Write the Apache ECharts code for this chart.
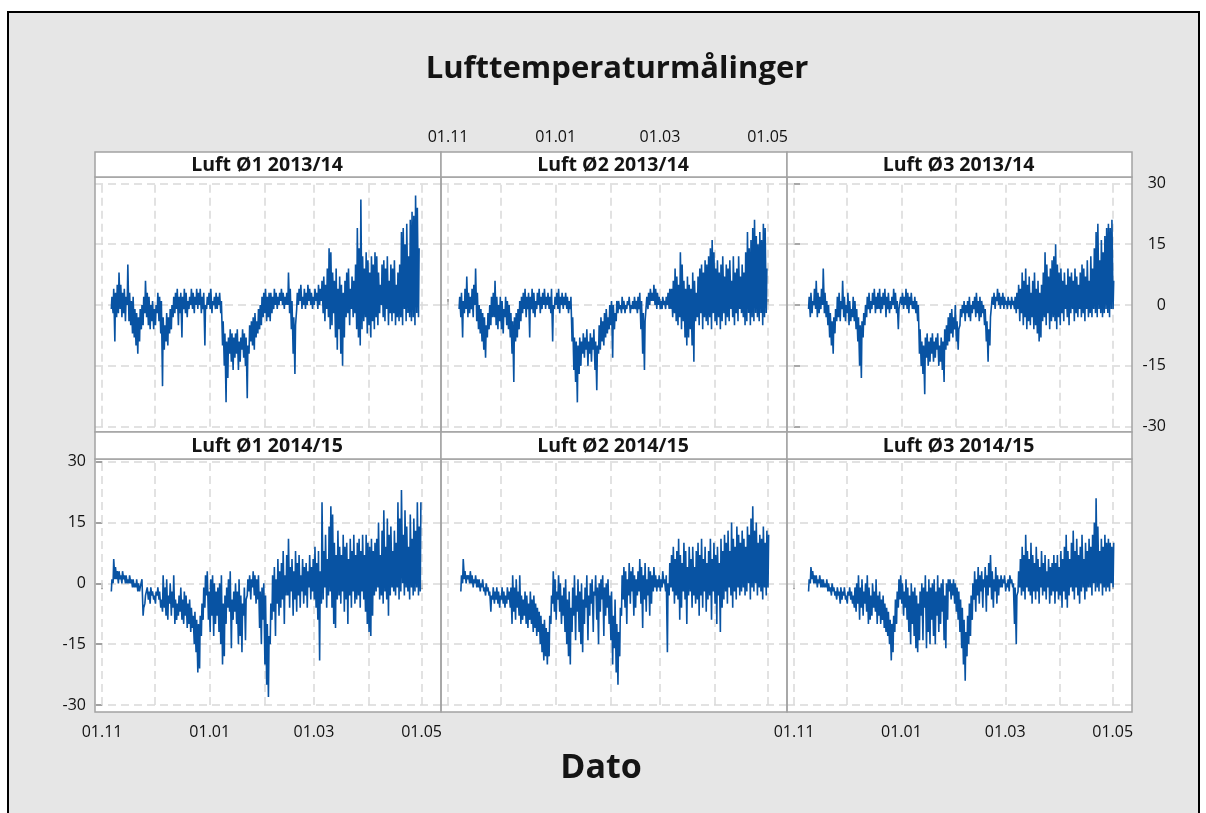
<!DOCTYPE html>
<html>
<head>
<meta charset="utf-8">
<title>Lufttemperaturmålinger</title>
<script src="https://cdn.jsdelivr.net/npm/echarts@6/dist/echarts.min.js"></script>
<style>
    html, body { margin: 0; padding: 0; background: #fff; }
    #chart { width: 1206px; height: 813px; }
</style>
</head>
<body>
<div id="chart"></div>
<script>
    // x = days after 01.11
    const tickDays = [0, 61, 120, 181];
    const tickLabels = ['01.11', '01.01', '01.03', '01.05'];
    const monthDays = [0, 30, 61, 92, 120, 151, 181];
    const yTicks = [-30, -15, 0, 15, 30];

    const panelTitles = ['Luft Ø1 2013/14', 'Luft Ø2 2013/14', 'Luft Ø3 2013/14',
                         'Luft Ø1 2014/15', 'Luft Ø2 2014/15', 'Luft Ø3 2014/15'];

    // daily highs / lows, first value is day "start"
    const startO1_1314 = 5;
    const hiO1_1314 = [2,4,3,5,8,5,3,4,2,10, 3,1,2,-1,-2,-3,-1,0,2,6, 3,2,0,1,-1,0,3,2,1,-3, -5,-2,-3,-1,0,2,3,4,2,3,
        2,4,3,1,2,4,3,2,4,3, 4,2,3,0,2,3,4,1,2,3, 2,3,1,-4,-7,-9,-8,-6,-7,-8, -7,-6,-9,-8,-6,-7,-8,-10,-5,-4,
        -3,-2,-4,-1,0,2,3,4,2,3, 3,2,4,3,2,3,4,3,2,3, 8,4,1,-3,-5,3,4,5,2,4, 3,5,4,3,2,4,3,5,4,6,
        7,5,9,14,13,8,6,9,4,7, 5,3,6,8,9,4,7,6,10,19, 14,26,12,9,13,11,8,12,10,13, 12,8,5,10,11,9,12,6,10,9,
        11,5,8,10,18,19,15,20,12,21, 23,22,27,24,14];
    const loO1_1314 = [-1,-2,-9,-3,-2,-1,-3,-2,-4,0, -4,-5,-7,-8,-10,-12,-9,-6,-5,-2, -3,-5,-6,-4,-6,-5,-2,-4,-7,-20, -11,-9,-10,-7,-6,-3,-2,-1,-5,-2,
        -8,-1,-2,-3,-1,0,-1,-2,0,-1, 0,-2,-1,-10,-1,0,-1,-2,0,-1, -1,0,-2,-10,-15,-24,-18,-12,-14,-16, -13,-12,-16,-14,-11,-13,-15,-23,-12,-9,
        -10,-11,-8,-7,-6,-5,-3,-2,-4,-3, -4,-2,-1,0,-1,0,1,0,-1,0, 0,-2,-6,-12,-17,-1,0,1,-1,0, -1,0,1,0,-1,0,1,-1,0,1,
        -2,-4,-1,-3,-6,-5,-2,-8,-11,-6, -12,-15,-8,-3,-2,-5,-1,-3,-2,-6, -8,-10,-6,-4,-3,-7,-5,-8,-4,-6, -3,-5,-2,0,-3,-4,-1,-5,-2,-4,
        -2,-5,-3,-4,-3,-5,-1,-4,-2,-3, -4,-3,-5,-2,-3];

    const startO2_1314 = 6;
    const hiO2_1314 = [2,3,1,4,7,3,2,4,5,9, 3,0,-1,-2,-3,-5,-2,0,2,3, 6,2,0,2,1,-1,2,1,0,-2, -4,-3,-2,-1,1,2,3,4,2,3,
        2,4,3,1,3,4,2,3,4,2, 3,2,4,0,2,3,4,2,3,2, 3,2,1,2,-3,-8,-9,-10,-8,-9, -7,-8,-6,-9,-7,-8,-6,-9,-10,-5,
        -3,-4,-2,-1,-3,0,1,0,-2,1, 1,0,2,1,0,1,2,0,1,2, 1,2,3,1,-2,-4,2,3,4,3, 5,4,3,2,1,2,1,2,3,4,
        4,6,9,7,5,13,10,6,4,7, 5,4,8,6,3,7,9,10,8,11, 10,12,14,16,13,9,11,8,10,12, 7,10,9,11,6,12,8,9,12,7,
        10,8,13,18,14,16,19,21,17,15, 18,16,20,19,9];
    const loO2_1314 = [-1,-3,-8,-2,-1,-3,-2,-1,-3,0, -4,-6,-7,-9,-11,-13,-8,-6,-5,-3, -3,-5,-6,-4,-6,-7,-3,-5,-6,-8, -12,-19,-9,-8,-6,-4,-2,-1,-3,-1,
        -8,-1,-2,-3,-1,0,-2,-1,0,-1, 0,-1,-2,-9,-1,0,-1,-2,0,-1, 0,-1,-2,-1,-9,-16,-19,-24,-17,-15, -12,-13,-11,-15,-12,-14,-11,-16,-21,-12,
        -11,-9,-10,-8,-7,-6,-5,-13,-6,-4, -2,-1,-2,-1,-2,-1,0,-2,-1,-1, -1,-2,-1,-6,-12,-16,-4,-1,0,1, 1,0,-1,0,-1,-1,0,-1,0,-1,
        -1,-3,-2,-4,-5,-3,-6,-4,-8,-10, -8,-6,-10,-14,-4,-3,-5,-2,-6,-3, -4,-5,-3,-6,-2,-4,-5,-3,-6,-4, -2,-5,-3,-4,-1,-3,-5,-2,-4,-1,
        -2,-3,-5,-4,-2,-5,-3,-4,-2,-3, -4,-2,-5,-3,-2];

    const startO3_1314 = 8;
    const hiO3_1314 = [2,3,1,4,6,3,2,4,9,3, 1,0,-2,-4,-3,-1,2,3,1,6, 2,0,3,1,-1,2,1,-1,-3,-5, -4,-2,0,2,3,1,3,4,2,3,
        4,2,3,4,2,3,1,2,4,3, 1,-1,2,3,2,4,3,2,3,1, 2,1,0,-6,-9,-10,-8,-7,-9,-8, -7,-9,-8,-7,-10,-8,-9,-6,-5,-3,
        -2,-1,-3,0,-4,-6,-1,0,1,0, 1,2,0,1,2,3,1,2,1,0, -1,-4,-6,-3,2,3,2,4,3,2, 3,2,1,2,1,2,1,2,3,5,
        4,8,6,9,5,7,3,6,8,4, 6,3,5,8,13,10,7,9,11,12, 15,10,8,9,6,8,5,9,7,8, 6,9,7,5,8,10,9,7,11,6,
        12,9,14,18,20,11,16,13,17,19, 20,19,21,6];
    const loO3_1314 = [-1,-3,-2,0,-1,-3,-2,-1,0,-2, -3,-5,-8,-10,-12,-7,-4,-3,-4,-1, -3,-4,-2,-5,-4,-3,-4,-6,-9,-15, -18,-8,-5,-3,-1,-2,-1,0,-2,-1,
        -1,-2,-1,0,-3,-1,-2,-1,0,-1, -2,-6,-1,0,-1,0,-1,-2,0,-1, -1,-2,-4,-12,-15,-17,-22,-13,-15,-14, -12,-14,-13,-11,-15,-14,-16,-19,-11,-10,
        -9,-7,-8,-6,-9,-11,-5,-3,-2,-4, -2,-3,-4,-2,-1,-3,-2,-4,-3,-2, -5,-9,-14,-10,-3,0,-1,1,0,-1, 0,-1,0,-1,0,-1,0,-1,-2,-1,
        -4,-2,-5,-3,-6,-4,-5,-3,-6,-5, -7,-9,-8,-4,-3,-5,-2,-6,-4,-3, -4,-6,-3,-5,-2,-4,-1,-3,-5,-2, -1,-4,-2,-3,-1,-3,-2,-4,-1,-3,
        -2,-3,-1,-2,-3,-1,-2,-3,-2,-1, -2,-3,-1,-1];

    const startO1_1415 = 5;
    const hiO1_1415 = [1,6,4,3,3,2,3,2,2,1, 2,1,1,0,1,0,-1,1,-6,-3, -1,-2,-1,-2,-3,-2,-1,-2,-4,2, -1,1,-3,0,-2,2,-4,-5,-3,-1,
        -4,-2,-3,-5,-4,-6,-8,-7,-9,-10, -8,-5,-1,2,3,-2,1,2,0,-2, -1,0,2,-5,-3,-1,1,3,-4,-2, 0,-2,1,-3,-5,-1,-4,1,2,1,
        3,2,1,2,-2,-1,0,-3,-10,-13, -5,2,4,1,6,3,5,8,2,7, 11,4,6,3,8,5,7,2,6,4, 5,3,7,4,6,9,5,8,3,20,
        8,12,6,14,19,17,10,7,13,9, 7,12,9,10,6,11,8,12,7,10, 11,8,12,7,12,10,9,11,8,10, 11,15,7,13,18,9,16,12,14,8,
        13,10,20,16,23,12,18,14,9,17, 11,16,13,20,14,20];
    const loO1_1415 = [-2,0,1,1,0,1,0,1,0,0, 0,0,-1,-1,-1,-2,-2,-1,-8,-5, -3,-4,-5,-3,-4,-5,-3,-4,-6,-7, -6,-8,-9,-5,-8,-6,-10,-9,-8,-7,
        -9,-10,-8,-11,-10,-12,-11,-15,-17,-22, -21,-13,-9,-6,-3,-9,-12,-8,-13,-10, -8,-12,-15,-20,-18,-10,-6,-7,-16,-9, -7,-10,-15,-13,-17,-8,-14,-3,-2,-4,
        -1,-3,-5,-4,-11,-15,-9,-20,-25,-28, -15,-9,-7,-13,-5,-8,-6,-4,-10,-3, -3,-6,-2,-8,-4,-7,-3,-6,-2,-5, -3,-6,-1,-4,-2,-4,-6,-9,-19,-5,
        -4,-1,-6,-3,-2,-6,-10,-11,-4,-3, -5,-2,-7,-4,-10,-3,-6,-2,-5,-4, -3,-6,-2,-4,-7,-10,-12,-13,-8,-3, -2,-1,-4,-3,-5,-2,-4,-8,-3,-1,
        -2,-3,-1,-4,-2,0,-3,-1,-2,-4, -1,-3,-2,-1,-3,-2];

    const startO2_1415 = 7;
    const hiO2_1415 = [2,6,3,2,2,3,2,1,2,1, 1,0,1,-1,0,-1,-2,-3,-1,-2, -1,-2,-3,-1,-2,-3,-1,-2,-1,2, -1,1,-2,2,-3,-4,-2,-3,-5,-2,
        -4,-3,-5,-6,-7,-8,-10,-9,-11,-12, -8,-3,3,1,-2,2,0,-3,-1,1, -4,-2,-6,-1,2,-3,1,-2,0,-4, -1,2,-3,0,1,-2,2,-1,0,1,
        2,-1,0,1,-3,-2,-8,-4,-10,-12, -6,2,4,3,1,5,3,4,2,1, 3,6,4,2,5,1,4,3,2,4, 2,1,2,1,3,1,2,0,5,7,
        9,6,8,11,7,5,10,8,4,9, 6,9,4,8,10,7,11,6,9,5, 8,11,6,10,7,9,5,11,8,12, 10,13,8,15,11,9,14,12,10,13,
        11,9,14,12,16,19,13,15,10,12, 11,14,10,13,12];
    const loO2_1415 = [-2,0,1,0,1,0,0,-1,0,-1, -1,-2,-1,-2,-3,-2,-3,-7,-4,-5, -4,-5,-6,-4,-5,-6,-5,-4,-6,-10, -7,-9,-6,-8,-10,-9,-8,-10,-11,-9,
        -10,-12,-11,-13,-12,-15,-17,-19,-18,-20, -18,-10,-5,-7,-9,-4,-7,-10,-8,-12, -15,-18,-20,-12,-8,-14,-7,-12,-15,-17, -10,-6,-14,-8,-5,-12,-3,-9,-15,-7,
        -4,-13,-8,-6,-10,-14,-20,-16,-22,-25, -18,-8,-4,-6,-10,-3,-5,-2,-8,-6, -3,-2,-5,-11,-4,-7,-3,-8,-5,-2, -1,-2,-1,-2,-1,0,-2,-17,-3,-1,
        -2,-5,-3,-4,-9,-6,-2,-4,-10,-3, -2,-6,-3,-5,-4,-8,-3,-6,-2,-7, -4,-3,-9,-2,-5,-10,-3,-12,-6,-4, -2,-5,-1,-3,-6,-2,-4,-1,-3,-2,
        -1,-3,-2,0,-4,-1,-2,0,-3,-1, -2,-4,-1,-3,-1];

    const startO3_1415 = 8;
    const hiO3_1415 = [1,4,3,2,2,1,2,1,1,0, 1,0,-1,0,-1,-2,-1,-2,-1,-2, -1,-3,-2,-1,-2,-3,-1,0,2,-1, 1,-2,0,2,-1,-3,0,-2,1,-3,
        -2,-4,-3,-5,-6,-7,-9,-10,-8,-4, -2,1,2,0,-2,1,-1,-3,0,-2, -1,-3,-5,-2,0,-1,2,-2,1,-1, 0,1,-2,2,-1,0,1,-3,0,1,
        1,0,1,0,-1,-2,-4,-6,-9,-12, -8,-5,-3,0,3,1,4,2,3,1, 4,2,5,7,3,1,4,2,1,2, 1,2,0,1,2,1,0,-1,-3,3,
        6,9,7,12,8,6,10,7,5,9, 6,4,8,5,7,3,6,4,5,7, 5,7,4,8,6,9,12,8,6,10, 13,8,11,7,9,12,6,10,8,11,
        9,12,15,21,14,8,11,9,12,10, 11,10,9,10];
    const loO3_1415 = [-2,0,1,0,0,-1,0,-1,-1,-1, -1,-2,-2,-3,-2,-3,-4,-3,-5,-4, -3,-4,-5,-3,-4,-5,-6,-7,-5,-9, -6,-8,-5,-7,-10,-9,-8,-6,-7,-10,
        -8,-10,-9,-11,-12,-13,-15,-19,-17,-12, -10,-6,-4,-5,-8,-6,-9,-12,-15,-10, -13,-16,-17,-14,-8,-14,-6,-16,-12,-15, -9,-13,-15,-8,-12,-10,-7,-14,-16,-9,
        -2,-4,-3,-5,-7,-9,-12,-16,-20,-24, -18,-15,-13,-9,-4,-7,-3,-5,-2,-6, -1,-7,-3,-1,-4,-6,-2,-5,-3,-1, -1,0,-2,-1,-2,0,-1,-10,-15,-2,
        -1,-3,-2,-4,-1,-2,-3,-5,-2,-4, -2,-5,-1,-3,-2,-4,-1,-5,-3,-2, -5,-2,-4,-3,-6,-2,-4,-6,-3,-1, -2,-4,-1,-3,-5,-2,-1,-4,-2,-1,
        -1,-3,0,-2,-1,-2,0,-3,-1,-2, -1,-2,0,-1];

    const panels = [
        [startO1_1314, hiO1_1314, loO1_1314],
        [startO2_1314, hiO2_1314, loO2_1314],
        [startO3_1314, hiO3_1314, loO3_1314],
        [startO1_1415, hiO1_1415, loO1_1415],
        [startO2_1415, hiO2_1415, loO2_1415],
        [startO3_1415, hiO3_1415, loO3_1415]
    ];

    // night low early in the day, afternoon high later
    function buildPoints(start, hi, lo) {
        let pts = [];
        let n = Math.min(hi.length, lo.length);
        for (let i = 0; i < n; i++) {
            pts.push([start + i + 0.25, lo[i]]);
            pts.push([start + i + 0.6, hi[i]]);
        }
        return pts;
    }

    // layout (px)
    const cols = [[95, 441], [441, 787], [787, 1132]];
    const rows = [
        { strip: 152, plotTop: 177, plotBottom: 432, gridTop: 183.3, gridBottom: 426.7 },
        { strip: 432, plotTop: 459, plotBottom: 712, gridTop: 461.7, gridBottom: 705 }
    ];
    const frameColor = '#a3a3a3';
    const gridColor = '#d9d9d9';
    const lineBlue = '#0853a3';
    const font = '"Open Sans", "Noto Sans", sans-serif';

    let grids = [], xAxes = [], yAxes = [], series = [], graphics = [];

    graphics.push({
        type: 'rect', z: -5,
        shape: { x: 8, y: 12, width: 1191, height: 830 },
        style: { fill: '#e6e6e6', stroke: '#000', lineWidth: 2 }
    });

    for (let p = 0; p < 6; p++) {
        let r = rows[Math.floor(p / 3)];
        let c = cols[p % 3];
        let w = c[1] - c[0];

        grids.push({ left: c[0], top: r.gridTop, width: w, height: r.gridBottom - r.gridTop });

        let xVisible = (p === 1 || p === 3 || p === 5);
        xAxes.push({
            type: 'value', gridIndex: p, min: -4, max: 192,
            show: xVisible,
            position: p === 1 ? 'top' : 'bottom',
            offset: p === 1 ? (r.gridTop - r.strip) : (r.plotBottom - r.gridBottom),
            axisLine: { show: false },
            axisTick: { show: true, customValues: tickDays, length: 6, lineStyle: { color: '#8c8c8c', width: 1.5 } },
            axisLabel: {
                customValues: tickDays, margin: p === 1 ? 7 : 12, fontSize: 16, color: '#111', fontFamily: font,
                formatter: v => tickLabels[tickDays.indexOf(v)] || ''
            },
            splitLine: { show: false }
        });

        let yVisible = (p === 2 || p === 3);
        yAxes.push({
            type: 'value', gridIndex: p, min: -30, max: 30, interval: 7.5,
            position: p === 2 ? 'right' : 'left',
            axisLine: { show: false },
            axisTick: { show: yVisible, customValues: yTicks, length: 6, lineStyle: { color: '#8c8c8c', width: 1.5 } },
            axisLabel: {
                show: yVisible, customValues: yTicks, fontSize: 16, color: '#111', fontFamily: font,
                margin: p === 2 ? 34 : 9, align: 'right'
            },
            splitLine: { show: true, lineStyle: { color: gridColor, width: 1.5, type: [8, 5] } }
        });

        series.push({
            type: 'line', xAxisIndex: p, yAxisIndex: p,
            data: buildPoints(panels[p][0], panels[p][1], panels[p][2]),
            showSymbol: false, symbol: 'none', z: 3,
            lineStyle: { color: lineBlue, width: 1.6 },
            markLine: {
                silent: true, z: 1, symbol: ['none', 'none'],
                label: { show: false },
                lineStyle: { color: gridColor, width: 1.5, type: [8, 5] },
                data: monthDays.map(d => ({ xAxis: d }))
            }
        });

        // white plot area + frame
        graphics.push({
            type: 'rect', z: -1,
            shape: { x: c[0], y: r.plotTop, width: w, height: r.plotBottom - r.plotTop },
            style: { fill: '#fff' }
        });
        graphics.push({
            type: 'rect', z: 10,
            shape: { x: c[0], y: r.plotTop, width: w, height: r.plotBottom - r.plotTop },
            style: { fill: 'none', stroke: frameColor, lineWidth: 1.5 }
        });
        // strip with panel title
        graphics.push({
            type: 'rect', z: 10,
            shape: { x: c[0], y: r.strip, width: w, height: r.plotTop - r.strip },
            style: { fill: '#fff', stroke: frameColor, lineWidth: 1.5 }
        });
        graphics.push({
            type: 'text', z: 11,
            style: {
                text: panelTitles[p], x: c[0] + w / 2 - 1, y: (r.strip + r.plotTop) / 2 + 1,
                textAlign: 'center', textVerticalAlign: 'middle',
                font: 'bold 19.5px ' + font, fill: '#141414'
            }
        });
    }

    graphics.push({
        type: 'text', z: 11,
        style: {
            text: 'Dato', x: 601, y: 768, textAlign: 'center', textVerticalAlign: 'middle',
            font: 'bold 34px ' + font, fill: '#141414'
        }
    });

    const chart = echarts.init(document.getElementById('chart'));
    chart.setOption({
        animation: false,
        backgroundColor: '#fff',
        title: {
            text: 'Lufttemperaturmålinger', left: 612, top: 49, textAlign: 'center',
            textStyle: { fontSize: 31, fontWeight: 'bold', color: '#141414', fontFamily: font }
        },
        grid: grids,
        xAxis: xAxes,
        yAxis: yAxes,
        series: series,
        graphic: graphics
    });
</script>
</body>
</html>
